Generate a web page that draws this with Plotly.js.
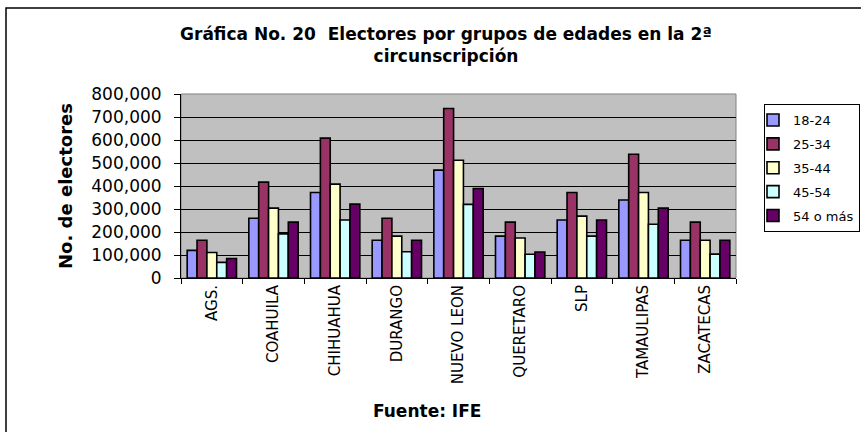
<!DOCTYPE html>
<html>
<head>
<meta charset="utf-8">
<script src="https://cdn.plot.ly/plotly-3.0.1.min.js"></script>
<style>html,body{margin:0;padding:0;background:#fff;}#chart{width:861px;height:432px;}</style>
</head>
<body>
<div id="chart"></div>
<script>
var categories = ["AGS.", "COAHUILA", "CHIHUAHUA", "DURANGO", "NUEVO LEON", "QUERETARO", "SLP", "TAMAULIPAS", "ZACATECAS"];
var seriesNames = ["18-24", "25-34", "35-44", "45-54", "54 o más"];
var s18_24 = [120000, 260000, 372000, 164000, 469000, 182000, 252000, 339000, 164000];
var s25_34 = [164000, 417000, 608000, 260000, 737000, 243000, 372000, 538000, 243000];
var s35_44 = [111000, 304000, 408000, 182000, 512000, 174000, 269000, 372000, 164000];
var s45_54 = [68000, 192000, 252000, 114000, 320000, 103000, 182000, 234000, 104000];
var s54mas = [85000, 243000, 321000, 164000, 389000, 113000, 252000, 304000, 164000];
var yTicks = [0, 100000, 200000, 300000, 400000, 500000, 600000, 700000, 800000];
var yTickLabels = ["0", "100,000", "200,000", "300,000", "400,000", "500,000", "600,000", "700,000", "800,000"];

var colors = ["#9999FF", "#993366", "#FFFFCC", "#CCFFFF", "#660066"];
var values = [s18_24, s25_34, s35_44, s45_54, s54mas];

var FONT = "DejaVu Sans, Arial, sans-serif";

var traces = values.map(function (v, i) {
  return {
    type: "bar",
    name: seriesNames[i],
    legendgroup: "g" + i,
    x: categories,
    y: v,
    marker: { color: colors[i], line: { color: "#000000", width: 1.6 } },
    hoverinfo: "skip"
  };
});

// plot area: x 181..736, y 94..278
var L = 181, R = 736, T = 94, B = 278, W = 861, H = 432;
var pw = R - L, ph = B - T;
function px(x) { return (x - L) / pw; }
function py(y) { return (B - y) / ph; }

var layout = {
  width: W,
  height: H,
  margin: { l: L, r: W - R, t: T, b: H - B, pad: 0, autoexpand: false },
  paper_bgcolor: "#FFFFFF",
  plot_bgcolor: "#C0C0C0",
  font: { family: FONT, color: "#000000", size: 13 },
  barmode: "group",
  bargap: 0.2,
  bargroupgap: 0,
  showlegend: true,
  title: {
    text: "Gráfica No. 20&nbsp; Electores por grupos de edades en la 2ª<br>circunscripción",
    font: { family: FONT, size: 17, color: "#000000", weight: "bold" },
    x: 446 / W,
    xanchor: "center",
    xref: "container",
    yref: "container",
    y: 1 - 40 / H,
    yanchor: "top"
  },
  xaxis: {
    type: "category",
    automargin: false,
    tickson: "boundaries",
    ticks: "outside",
    ticklen: 5,
    tickwidth: 1,
    tickcolor: "#000000",
    tickangle: -90,
    tickfont: { family: FONT, size: 15, color: "#000000" },
    showline: true,
    linecolor: "#000000",
    linewidth: 1,
    showgrid: false,
    zeroline: false,
    fixedrange: true
  },
  yaxis: {
    automargin: false,
    range: [0, 800000],
    tickvals: yTicks,
    ticktext: yTickLabels,
    ticks: "outside",
    ticklen: 6,
    tickwidth: 1,
    tickcolor: "#000000",
    ticklabelstandoff: 9,
    tickfont: { family: FONT, size: 17, color: "#000000" },
    showline: true,
    linecolor: "#000000",
    linewidth: 1,
    showgrid: true,
    gridcolor: "#000000",
    gridwidth: 1,
    zeroline: false,
    fixedrange: true,
    title: {
      text: "No. de electores",
      font: { family: FONT, size: 18, color: "#000000", weight: "bold" },
      standoff: 13
    }
  },
  legend: {
    x: px(764),
    xanchor: "left",
    y: py(104),
    yanchor: "top",
    bgcolor: "#FFFFFF",
    bordercolor: "#000000",
    borderwidth: 1,
    font: { family: FONT, size: 13, color: "#000000" },
    traceorder: "grouped",
    tracegroupgap: 4,
    itemwidth: 30,
    indentation: -12
  },
  annotations: [
    {
      text: "Fuente: IFE",
      xref: "paper", yref: "paper",
      x: px(427), y: py(411),
      xanchor: "center", yanchor: "middle",
      showarrow: false,
      font: { family: FONT, size: 17, color: "#000000", weight: "bold" }
    }
  ],
  shapes: [
    {
      type: "rect", xref: "paper", yref: "paper",
      x0: 0, x1: 1, y0: 0, y1: 1,
      line: { color: "#808080", width: 1 },
      layer: "below"
    },
    {
      type: "rect", xref: "paper", yref: "paper",
      x0: px(6), x1: px(W + 20), y0: py(8), y1: py(H + 20),
      line: { color: "#000000", width: 1.5 },
      fillcolor: "rgba(0,0,0,0)",
      layer: "above"
    }
  ]
};

Plotly.newPlot("chart", traces, layout, { displayModeBar: false, staticPlot: true });
</script>
</body>
</html>
